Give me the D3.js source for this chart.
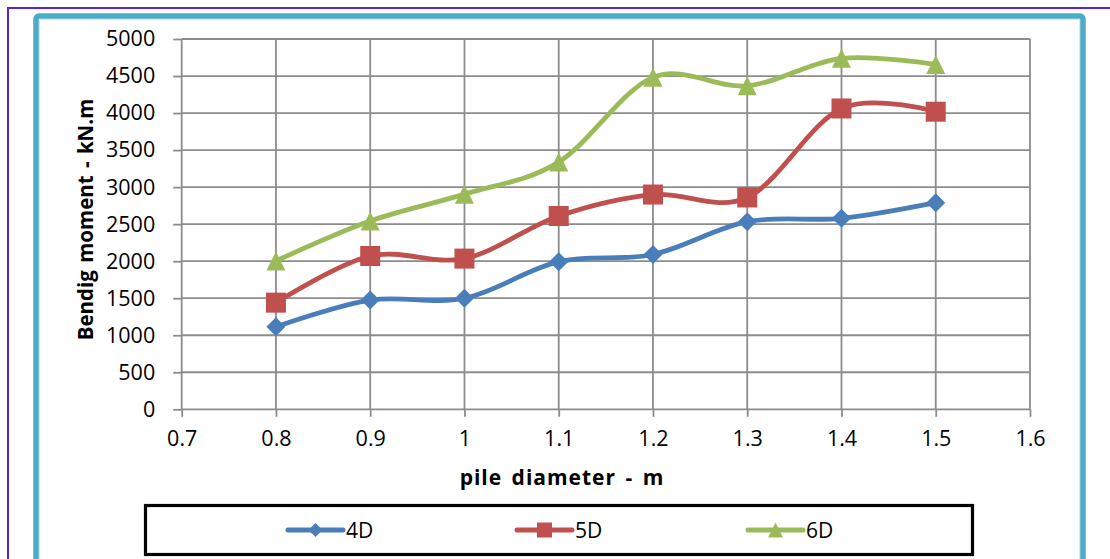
<!DOCTYPE html>
<html>
<head>
<meta charset="utf-8">
<script src="https://cdn.jsdelivr.net/npm/d3@7"></script>
<style>
  html, body { margin: 0; padding: 0; background: #fff; }
  svg { display: block; }
  text { font-family: "Open Sans", "Noto Sans", sans-serif; fill: #000; }
</style>
</head>
<body>
<svg id="chart" width="1110" height="559"></svg>
<script>
// ---- data ----
const diameters = [0.8, 0.9, 1.0, 1.1, 1.2, 1.3, 1.4, 1.5];
const series4D = [1115, 1475, 1500, 1993, 2090, 2533, 2579, 2790];
const series5D = [1440, 2070, 2035, 2610, 2900, 2860, 4062, 4018];
const series6D = [2003, 2543, 2905, 3338, 4482, 4368, 4739, 4656];
const seriesNames = ["4D", "5D", "6D"];
const xTickValues = [0.7, 0.8, 0.9, 1.0, 1.1, 1.2, 1.3, 1.4, 1.5, 1.6];
const xTickLabels = ["0.7", "0.8", "0.9", "1", "1.1", "1.2", "1.3", "1.4", "1.5", "1.6"];
const yTickValues = [0, 500, 1000, 1500, 2000, 2500, 3000, 3500, 4000, 4500, 5000];
const yTickLabels = ["0", "500", "1000", "1500", "2000", "2500", "3000", "3500", "4000", "4500", "5000"];
const xTitle = "pile diameter - m";
const yTitle = "Bendig moment - kN.m";

// ---- styles ----
const colors = ["#4a7ebb", "#c0504d", "#9bbb59"];
const markers = ["diamond", "square", "triangle"];
const allSeries = [series4D, series5D, series6D];

const svg = d3.select("#chart");

// outer frames
svg.append("path")
  .attr("d", "M1112,8 L8,8 L8,562")
  .attr("fill", "none").attr("stroke", "#5a22dd").attr("stroke-width", 2);
svg.append("rect")
  .attr("x", 36).attr("y", 16).attr("width", 1047).attr("height", 560)
  .attr("rx", 3).attr("fill", "#fff")
  .attr("stroke", "#4bacc6").attr("stroke-width", 5.5);
svg.append("rect")
  .attr("x", 39.5).attr("y", 19.5).attr("width", 1040).attr("height", 560)
  .attr("fill", "none").attr("stroke", "#cfe9f1").attr("stroke-width", 1);

// scales
const x = d3.scaleLinear().domain([0.7, 1.6]).range([181.7, 1030]);
const y = d3.scaleLinear().domain([0, 5000]).range([409.3, 39]);

const gridColor = "#8c8c8c";
const gw = 1.8;

// gridlines
const grid = svg.append("g");
grid.selectAll(".hg").data(yTickValues).join("line")
  .attr("x1", x(0.7)).attr("x2", x(1.6))
  .attr("y1", d => y(d)).attr("y2", d => y(d))
  .attr("stroke", gridColor).attr("stroke-width", gw);
grid.selectAll(".vg").data(xTickValues).join("line")
  .attr("x1", d => x(d)).attr("x2", d => x(d))
  .attr("y1", y(0)).attr("y2", y(5000))
  .attr("stroke", gridColor).attr("stroke-width", gw);

// axes
const yAxis = d3.axisLeft(y).tickValues(yTickValues)
  .tickFormat((d, i) => yTickLabels[i]).tickSize(8.5).tickPadding(18);
const gy = svg.append("g").attr("transform", `translate(${x(0.7)},0)`).call(yAxis);
gy.select(".domain").remove();
gy.selectAll(".tick line").attr("stroke", gridColor).attr("stroke-width", gw);
gy.selectAll(".tick text").attr("font-size", "21.5px").attr("fill", "#000")
  .style("font-family", '"Open Sans", sans-serif');

const xAxis = d3.axisBottom(x).tickValues(xTickValues)
  .tickFormat((d, i) => xTickLabels[i]).tickSize(7.5).tickPadding(14);
const gx = svg.append("g").attr("transform", `translate(0,${y(0)})`).call(xAxis);
gx.select(".domain").remove();
gx.selectAll(".tick line").attr("stroke", gridColor).attr("stroke-width", gw);
gx.selectAll(".tick text").attr("font-size", "21.5px").attr("fill", "#000")
  .style("font-family", '"Open Sans", sans-serif');

// titles
svg.append("text").attr("x", 562).attr("y", 485).attr("text-anchor", "middle")
  .attr("font-size", "21px").attr("font-weight", "bold")
  .attr("letter-spacing", "1px").attr("word-spacing", "3px").text(xTitle);
svg.append("text").attr("transform", "translate(92.5,219.5) rotate(-90)")
  .attr("text-anchor", "middle")
  .attr("font-size", "20.5px").attr("font-weight", "bold")
  .attr("word-spacing", "2px").text(yTitle);

// marker path generator
function markerPath(type, s) {
  if (type === "diamond") return `M0,${-s}L${s},0L0,${s}L${-s},0Z`;
  if (type === "square") return `M${-s},${-s}H${s}V${s}H${-s}Z`;
  return `M0,${-s}L${s},${s}L${-s},${s}Z`;
}

const line = d3.line()
  .x((d, i) => x(diameters[i]))
  .y(d => y(d))
  .curve(d3.curveCardinal.tension(0));

const markerSize = [9.5, 10, 9.5];
allSeries.forEach((vals, si) => {
  const g = svg.append("g");
  g.append("path").datum(vals)
    .attr("d", line).attr("fill", "none")
    .attr("stroke", colors[si]).attr("stroke-width", 4.8)
    .attr("stroke-linejoin", "round").attr("stroke-linecap", "round");
  g.selectAll("path.m").data(vals).join("path").attr("class", "m")
    .attr("transform", (d, i) => `translate(${x(diameters[i])},${y(d)})`)
    .attr("d", markerPath(markers[si], markerSize[si]))
    .attr("fill", colors[si]);
});

// legend
const legend = svg.append("g");
legend.append("rect").attr("x", 145.5).attr("y", 505.5).attr("width", 827).attr("height", 49)
  .attr("fill", "#fff").attr("stroke", "#000").attr("stroke-width", 3.2);
const legendX = [288, 517, 748];
const legendMk = [7, 7.5, 7.5];
seriesNames.forEach((name, si) => {
  const lx = legendX[si], ly = 530;
  legend.append("line").attr("x1", lx).attr("x2", lx + 55).attr("y1", ly).attr("y2", ly)
    .attr("stroke", colors[si]).attr("stroke-width", 5).attr("stroke-linecap", "round");
  legend.append("path")
    .attr("transform", `translate(${lx + 27.5},${ly})`)
    .attr("d", si === 2 ? `M0,-7.5L7.5,7.5L-7.5,7.5Z` : markerPath(markers[si], legendMk[si]))
    .attr("fill", colors[si]);
  legend.append("text").attr("x", lx + 58).attr("y", ly).attr("dy", "0.36em")
    .attr("font-size", "21px").text(name);
});
</script>
</body>
</html>
